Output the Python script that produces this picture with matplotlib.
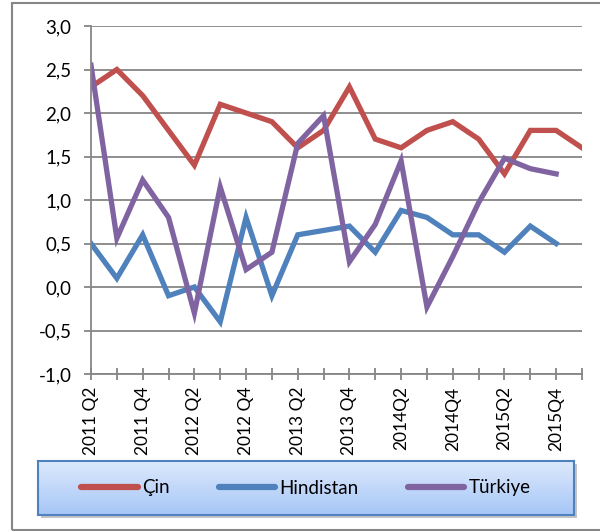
import numpy as np
from matplotlib import pyplot as plt
from matplotlib.patches import Rectangle
from matplotlib.lines import Line2D

plt.rcParams['font.family'] = ['Lato', 'DejaVu Sans']

quarters = ["2011 Q2", "", "2011 Q4", "", "2012 Q2", "", "2012 Q4", "",
            "2013 Q2", "", "2013 Q4", "", "2014Q2", "", "2014Q4", "",
            "2015Q2", "", "2015Q4", ""]
cin = [2.3, 2.5, 2.2, 1.8, 1.4, 2.1, 2.0, 1.9, 1.6, 1.8,
       2.3, 1.7, 1.6, 1.8, 1.9, 1.7, 1.3, 1.8, 1.8, 1.6]
hindistan = [0.5, 0.1, 0.6, -0.1, 0.0, -0.4, 0.8, -0.1, 0.6, 0.65,
             0.7, 0.4, 0.88, 0.8, 0.6, 0.6, 0.4, 0.7, 0.5]
turkiye = [2.55, 0.56, 1.23, 0.8, -0.3, 1.15, 0.2, 0.4, 1.65, 1.97,
           0.29, 0.72, 1.45, -0.23, 0.35, 0.97, 1.48, 1.36, 1.3]

c_red = "#C0504D"
c_blue = "#4F81BD"
c_purple = "#8064A2"
grey = "#868686"

W, H = 600, 531
fig = plt.figure(figsize=(6.0, 5.31), dpi=100)

# outer chart frame
fig.patches.append(Rectangle((12 / W, 1 / H), 700 / W, 527 / H, transform=fig.transFigure,
                             fill=False, edgecolor=grey, linewidth=1.5))

ax = fig.add_axes([91 / W, 1 - 374 / H, 491 / W, 348 / H])
ax.plot(range(len(cin)), cin, color=c_red, lw=3.8, solid_joinstyle='miter', label="Çin")
ax.plot(range(len(hindistan)), hindistan, color=c_blue, lw=3.8, solid_joinstyle='miter', label="Hindistan")
ax.plot(range(len(turkiye)), turkiye, color=c_purple, lw=3.8, solid_joinstyle='miter', label="Türkiye")

ax.set_xlim(0, 19)
ax.set_ylim(-1.0, 3.0)
yt = np.arange(-1.0, 3.01, 0.5)
ax.set_yticks(yt)
ax.set_yticklabels([("%.1f" % v).replace(".", ",") for v in yt], fontsize=13.5)
ax.set_xticks(range(len(quarters)))
ax.set_xticklabels(quarters, rotation=90, fontsize=12.5)
ax.yaxis.grid(True, color=grey, lw=1.3)
ax.set_axisbelow(True)
for s in ["top", "right"]:
    ax.spines[s].set_visible(False)
for s in ["left", "bottom"]:
    ax.spines[s].set_color(grey)
    ax.spines[s].set_linewidth(1.3)
ax.tick_params(axis='y', length=5, width=1.3, color=grey, pad=9)
ax.tick_params(axis='x', direction='inout', length=8, width=1.3, color=grey, pad=5)

# legend box with gradient and shadow
lx, ly, lw_, lh = 38 / W, 1 - 515 / H, 536 / W, 54 / H
shadow = Rectangle((lx + 3 / W, ly - 3 / H), lw_, lh, transform=fig.transFigure,
                   facecolor="#c4c4c4", edgecolor="none", zorder=-5)
fig.patches.append(shadow)
lax = fig.add_axes([lx, ly, lw_, lh])
grad = np.linspace(0, 1, 100).reshape(-1, 1)
top = np.array([0xDE, 0xEA, 0xFC]) / 255
bot = np.array([0xA6, 0xC6, 0xF7]) / 255
img = top[None, None, :] * (1 - grad[:, :, None]) + bot[None, None, :] * grad[:, :, None]
lax.imshow(img, aspect='auto', extent=[0, 1, 0, 1])
lax.set_xticks([])
lax.set_yticks([])
for s in lax.spines.values():
    s.set_color(c_blue)
    s.set_linewidth(1.5)

handles = [Line2D([], [], color=c, lw=4.5, solid_capstyle='round') for c in (c_red, c_blue, c_purple)]
lax.legend(handles, ["Çin", "Hindistan", "Türkiye"], loc='center', ncol=3, frameon=False,
           fontsize=13.5, handlelength=3.0, handletextpad=0.25, columnspacing=2.6)

plt.savefig("out.png", dpi=100)
